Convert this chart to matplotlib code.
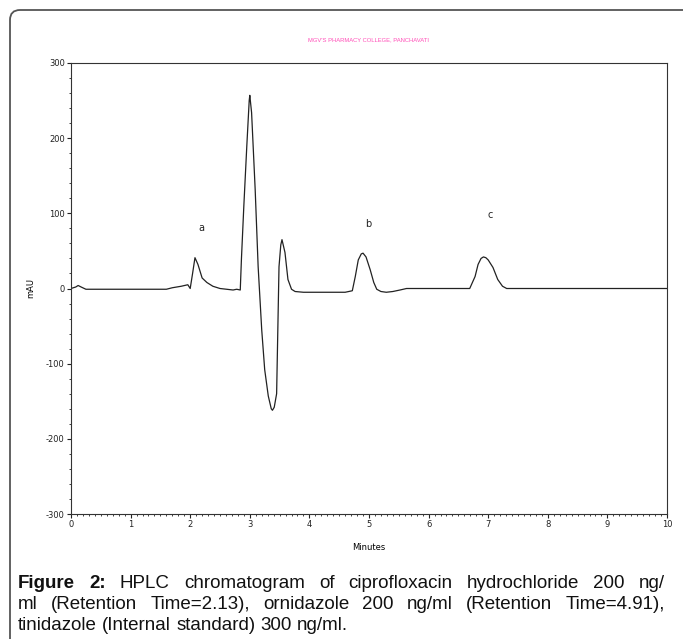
import numpy as np
import matplotlib
matplotlib.use("Agg")
import matplotlib.pyplot as plt
from matplotlib.patches import FancyBboxPatch
from matplotlib.ticker import MultipleLocator
from matplotlib.transforms import IdentityTransform

plt.rcParams["axes.unicode_minus"] = False

# chromatogram trace (minutes, mAU)
minutes = [0.0, 0.08, 0.12, 0.17, 0.25, 0.4, 1.0, 1.6, 1.7, 1.85, 1.96, 2.0,
           2.04, 2.08, 2.13, 2.2, 2.28, 2.38, 2.5, 2.72, 2.78, 2.84, 2.86, 2.9,
           2.95, 2.99, 3.0, 3.03, 3.09, 3.14, 3.2, 3.25, 3.31, 3.36, 3.38, 3.41,
           3.45, 3.49, 3.52, 3.54, 3.59, 3.64, 3.7, 3.76, 3.9, 4.3, 4.6, 4.72,
           4.77, 4.82, 4.87, 4.9, 4.95, 5.02, 5.08, 5.13, 5.2, 5.29, 5.4, 5.52,
           5.63, 6.0, 6.5, 6.69, 6.78, 6.83, 6.88, 6.92, 6.96, 7.0, 7.08, 7.16,
           7.24, 7.31, 7.5, 8.0, 9.0, 10.0]
mau = [0.0, 2.0, 4.0, 2.0, -1.0, -1.0, -1.0, -1.0, 1.0, 3.0, 5.0, 0.0,
       20.0, 41.0, 32.0, 14.0, 8.0, 3.0, 0.0, -2.0, -1.0, -2.0, 40.0, 110.0,
       190.0, 250.0, 257.0, 234.0, 132.0, 29.0, -55.0, -108.0, -143.0, -160.0, -162.0, -158.0,
       -140.0, 29.0, 58.0, 65.0, 48.0, 12.0, -1.0, -4.0, -5.0, -5.0, -5.0, -3.0,
       16.0, 38.0, 46.0, 47.0, 42.0, 25.0, 8.0, -1.0, -4.0, -5.0, -4.0, -2.0,
       0.0, 0.0, 0.0, 0.0, 16.0, 32.0, 40.0, 42.0, 41.0, 38.0, 28.0, 12.0,
       3.0, 0.0, 0.0, 0.0, 0.0, 0.0]

peak_names = ["a", "b", "c"]
peak_x = [2.18, 4.98, 7.03]
peak_y = [81, 86, 98]

x_ticks = list(range(0, 11))
y_ticks = [-300, -200, -100, 0, 100, 200, 300]

header = "MGV'S PHARMACY COLLEGE, PANCHAVATI"
caption_lines = [
    [("Figure", "bold"), ("2:", "bold"), ("HPLC", "normal"), ("chromatogram", "normal"),
     ("of", "normal"), ("ciprofloxacin", "normal"), ("hydrochloride", "normal"),
     ("200", "normal"), ("ng/", "normal")],
    [("ml", "normal"), ("(Retention", "normal"), ("Time=2.13),", "normal"),
     ("ornidazole", "normal"), ("200", "normal"), ("ng/ml", "normal"),
     ("(Retention", "normal"), ("Time=4.91),", "normal")],
    [("tinidazole", "normal"), ("(Internal", "normal"), ("standard)", "normal"),
     ("300", "normal"), ("ng/ml.", "normal")],
]

W, H = 683, 639
fig = plt.figure(figsize=(W / 100, H / 100), dpi=100)
fig.patch.set_facecolor("white")

# outer rounded frame (runs off the right and bottom edges)
frame = FancyBboxPatch((10, -30), 720, 659, boxstyle="round,pad=0,rounding_size=10",
                       transform=IdentityTransform(), facecolor="none",
                       edgecolor="#555555", linewidth=1.3)
fig.patches.append(frame)

ax = fig.add_axes([71 / W, 1 - 514 / H, (667 - 71) / W, (514 - 63) / H])
ax.plot(minutes, mau, color="#222222", linewidth=0.9)
for name, px, py in zip(peak_names, peak_x, peak_y):
    ax.text(px, py, name, ha="center", va="center", fontsize=7, color="#222222")

ax.set_xlim(0, 10)
ax.set_ylim(-300, 300)
ax.set_xticks(x_ticks)
ax.set_yticks(y_ticks)
ax.xaxis.set_minor_locator(MultipleLocator(0.1))
ax.yaxis.set_minor_locator(MultipleLocator(20))
ax.tick_params(which="major", direction="out", length=3, width=0.8,
               labelsize=6, pad=1.5, colors="#222222")
ax.tick_params(which="minor", direction="out", length=1.5, width=0.6, colors="#222222")
for sp in ax.spines.values():
    sp.set_linewidth(0.8)
    sp.set_color("#333333")
ax.set_xlabel("Minutes", fontsize=6, labelpad=10)
ax.set_ylabel("mAU", fontsize=6, labelpad=5)
ax.yaxis.set_label_coords(-(71 - 35) / (667 - 71), 0.5)

fig.text(368 / W, 1 - 40 / H, header, ha="center", va="center", fontsize=4.2,
         color="#ff4fb8", family="Liberation Sans")

# caption, justified like the journal layout
renderer = fig.canvas.get_renderer()
left, right = 18, 665
baselines = [588, 609, 630]
cap_size = 13.5
for i, (words, yb) in enumerate(zip(caption_lines, baselines)):
    texts = []
    for w, wt in words:
        t = fig.text(0, H - yb, w, fontsize=cap_size, fontweight=wt, family="Liberation Sans",
                     color="#111111", va="baseline", ha="left", transform=IdentityTransform())
        texts.append(t)
    widths = [t.get_window_extent(renderer).width for t in texts]
    if i < len(caption_lines) - 1:
        gap = (right - left - sum(widths)) / (len(words) - 1)
    else:
        gap = cap_size * 100 / 72 * 0.278
    x = left
    for t, w in zip(texts, widths):
        t.set_x(x)
        x += w + gap

fig.savefig("out.png", dpi=100, facecolor="white")
